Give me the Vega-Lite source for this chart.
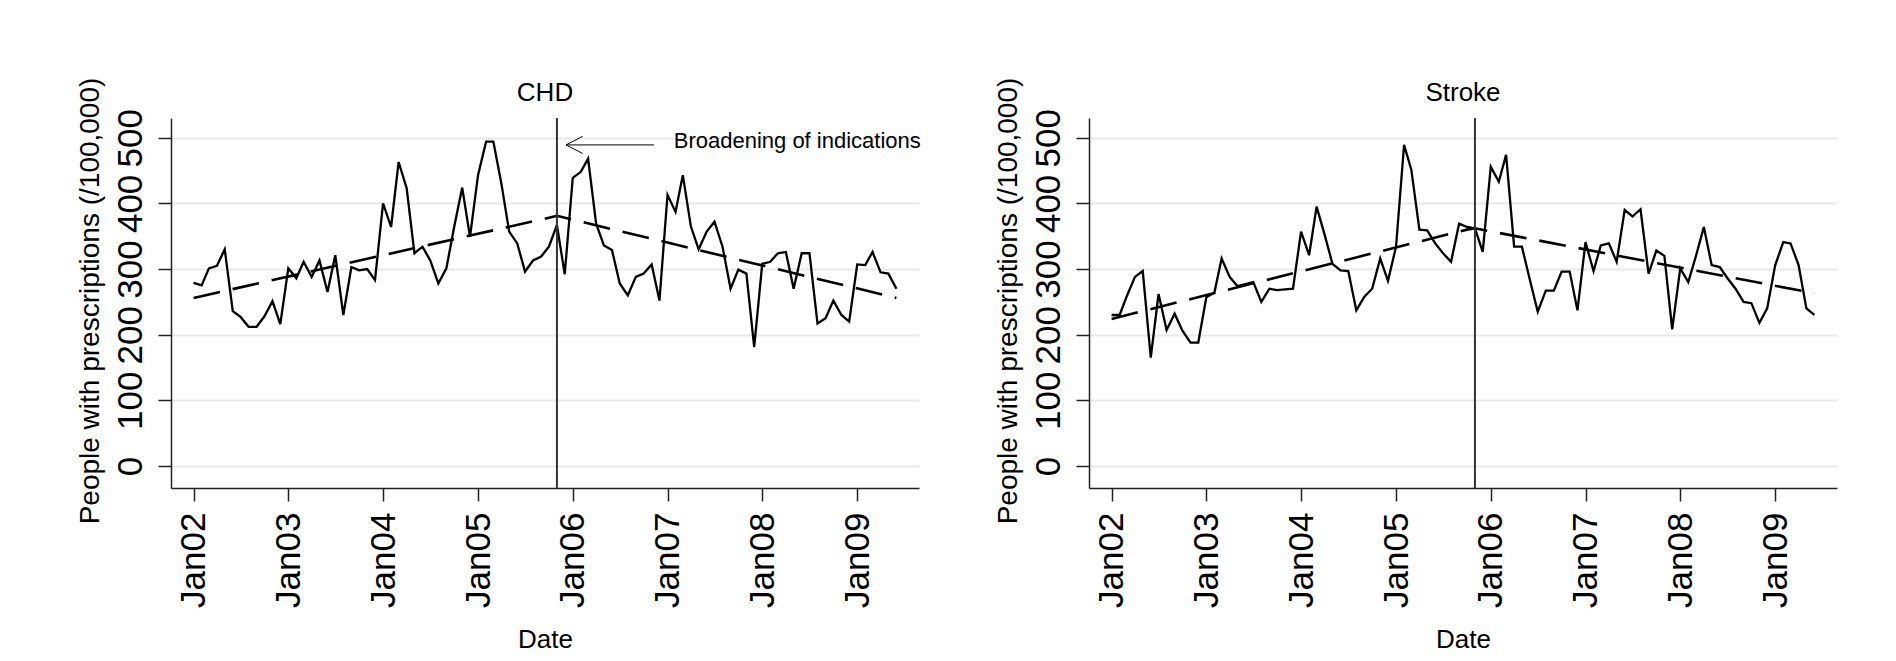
{
  "$schema": "https://vega.github.io/schema/vega-lite/v6.json",
  "background": "white",
  "padding": {"left": 75, "top": 77, "right": 10, "bottom": 5},
  "spacing": 170,
  "bounds": "flush",
  "datasets": {
    "monthly": [
      {"date": "2002-01-01", "chd": 279, "stroke": 230},
      {"date": "2002-02-01", "chd": 275, "stroke": 230},
      {"date": "2002-03-01", "chd": 301, "stroke": 259},
      {"date": "2002-04-01", "chd": 305, "stroke": 288},
      {"date": "2002-05-01", "chd": 330, "stroke": 297},
      {"date": "2002-06-01", "chd": 236, "stroke": 165},
      {"date": "2002-07-01", "chd": 227, "stroke": 262},
      {"date": "2002-08-01", "chd": 212, "stroke": 207},
      {"date": "2002-09-01", "chd": 212, "stroke": 232},
      {"date": "2002-10-01", "chd": 228, "stroke": 206},
      {"date": "2002-11-01", "chd": 251, "stroke": 188},
      {"date": "2002-12-01", "chd": 216, "stroke": 188},
      {"date": "2003-01-01", "chd": 301, "stroke": 257},
      {"date": "2003-02-01", "chd": 286, "stroke": 264},
      {"date": "2003-03-01", "chd": 311, "stroke": 316},
      {"date": "2003-04-01", "chd": 288, "stroke": 288},
      {"date": "2003-05-01", "chd": 313, "stroke": 274},
      {"date": "2003-06-01", "chd": 265, "stroke": 277},
      {"date": "2003-07-01", "chd": 321, "stroke": 280},
      {"date": "2003-08-01", "chd": 230, "stroke": 250},
      {"date": "2003-09-01", "chd": 303, "stroke": 270},
      {"date": "2003-10-01", "chd": 298, "stroke": 268},
      {"date": "2003-11-01", "chd": 300, "stroke": 269},
      {"date": "2003-12-01", "chd": 283, "stroke": 270},
      {"date": "2004-01-01", "chd": 400, "stroke": 357},
      {"date": "2004-02-01", "chd": 364, "stroke": 321},
      {"date": "2004-03-01", "chd": 463, "stroke": 395},
      {"date": "2004-04-01", "chd": 423, "stroke": 352},
      {"date": "2004-05-01", "chd": 324, "stroke": 308},
      {"date": "2004-06-01", "chd": 334, "stroke": 298},
      {"date": "2004-07-01", "chd": 313, "stroke": 297},
      {"date": "2004-08-01", "chd": 278, "stroke": 237},
      {"date": "2004-09-01", "chd": 301, "stroke": 258},
      {"date": "2004-10-01", "chd": 364, "stroke": 270},
      {"date": "2004-11-01", "chd": 424, "stroke": 316},
      {"date": "2004-12-01", "chd": 349, "stroke": 282},
      {"date": "2005-01-01", "chd": 443, "stroke": 334},
      {"date": "2005-02-01", "chd": 494, "stroke": 489},
      {"date": "2005-03-01", "chd": 494, "stroke": 451},
      {"date": "2005-04-01", "chd": 430, "stroke": 360},
      {"date": "2005-05-01", "chd": 357, "stroke": 359},
      {"date": "2005-06-01", "chd": 339, "stroke": 339},
      {"date": "2005-07-01", "chd": 296, "stroke": 324},
      {"date": "2005-08-01", "chd": 313, "stroke": 311},
      {"date": "2005-09-01", "chd": 319, "stroke": 369},
      {"date": "2005-10-01", "chd": 334, "stroke": 364},
      {"date": "2005-11-01", "chd": 367, "stroke": 362},
      {"date": "2005-12-01", "chd": 292, "stroke": 326},
      {"date": "2006-01-01", "chd": 439, "stroke": 456},
      {"date": "2006-02-01", "chd": 448, "stroke": 433},
      {"date": "2006-03-01", "chd": 468, "stroke": 474},
      {"date": "2006-04-01", "chd": 369, "stroke": 334},
      {"date": "2006-05-01", "chd": 336, "stroke": 334},
      {"date": "2006-06-01", "chd": 329, "stroke": 283},
      {"date": "2006-07-01", "chd": 278, "stroke": 235},
      {"date": "2006-08-01", "chd": 260, "stroke": 267},
      {"date": "2006-09-01", "chd": 288, "stroke": 267},
      {"date": "2006-10-01", "chd": 293, "stroke": 296},
      {"date": "2006-11-01", "chd": 307, "stroke": 296},
      {"date": "2006-12-01", "chd": 252, "stroke": 237},
      {"date": "2007-01-01", "chd": 413, "stroke": 341},
      {"date": "2007-02-01", "chd": 387, "stroke": 297},
      {"date": "2007-03-01", "chd": 443, "stroke": 336},
      {"date": "2007-04-01", "chd": 365, "stroke": 339},
      {"date": "2007-05-01", "chd": 330, "stroke": 311},
      {"date": "2007-06-01", "chd": 357, "stroke": 390},
      {"date": "2007-07-01", "chd": 372, "stroke": 380},
      {"date": "2007-08-01", "chd": 334, "stroke": 391},
      {"date": "2007-09-01", "chd": 270, "stroke": 293},
      {"date": "2007-10-01", "chd": 299, "stroke": 328},
      {"date": "2007-11-01", "chd": 293, "stroke": 320},
      {"date": "2007-12-01", "chd": 181, "stroke": 208},
      {"date": "2008-01-01", "chd": 308, "stroke": 301},
      {"date": "2008-02-01", "chd": 311, "stroke": 280},
      {"date": "2008-03-01", "chd": 324, "stroke": 319},
      {"date": "2008-04-01", "chd": 326, "stroke": 364},
      {"date": "2008-05-01", "chd": 270, "stroke": 306},
      {"date": "2008-06-01", "chd": 324, "stroke": 303},
      {"date": "2008-07-01", "chd": 324, "stroke": 286},
      {"date": "2008-08-01", "chd": 217, "stroke": 270},
      {"date": "2008-09-01", "chd": 225, "stroke": 250},
      {"date": "2008-10-01", "chd": 252, "stroke": 248},
      {"date": "2008-11-01", "chd": 230, "stroke": 218},
      {"date": "2008-12-01", "chd": 220, "stroke": 240},
      {"date": "2009-01-01", "chd": 307, "stroke": 306},
      {"date": "2009-02-01", "chd": 306, "stroke": 341},
      {"date": "2009-03-01", "chd": 326, "stroke": 339},
      {"date": "2009-04-01", "chd": 295, "stroke": 306},
      {"date": "2009-05-01", "chd": 293, "stroke": 240},
      {"date": "2009-06-01", "chd": 270, "stroke": 230}
    ],
    "trend": [
      {"date": "2002-01-01", "chd": 256, "stroke": 224},
      {"date": "2005-10-01", "chd": 378, "stroke": 360},
      {"date": "2005-11-01", "chd": 381, "stroke": 362},
      {"date": "2009-06-01", "chd": 256, "stroke": 263}
    ],
    "event": [{"date": "2005-11-01"}],
    "arrow": [
      {"x": "2005-12-06", "y": 489, "x2": "2006-11-10", "y2": 489},
      {"x": "2005-12-06", "y": 489, "x2": "2006-02-08", "y2": 502},
      {"x": "2005-12-06", "y": 489, "x2": "2006-02-08", "y2": 476}
    ],
    "notes": [{"date": "2007-01-25", "value": 484, "label": "Broadening of indications"}]
  },
  "hconcat": [
    {
      "width": 748,
      "height": 370,
      "title": {"text": "CHD"},
      "layer": [
        {
          "data": {"name": "monthly"},
          "mark": {"type": "line", "color": "#000", "strokeWidth": 2.3},
          "encoding": {
            "x": {
              "field": "date", "type": "temporal",
              "scale": {"type": "utc", "domain": [{"year": 2001, "month": 10, "date": 6, "utc": true}, {"year": 2009, "month": 8, "date": 27, "utc": true}]},
              "axis": {
                "title": "Date",
                "values": [
                  {"year": 2002, "month": 1, "date": 1, "utc": true},
                  {"year": 2003, "month": 1, "date": 1, "utc": true},
                  {"year": 2004, "month": 1, "date": 1, "utc": true},
                  {"year": 2005, "month": 1, "date": 1, "utc": true},
                  {"year": 2006, "month": 1, "date": 1, "utc": true},
                  {"year": 2007, "month": 1, "date": 1, "utc": true},
                  {"year": 2008, "month": 1, "date": 1, "utc": true},
                  {"year": 2009, "month": 1, "date": 1, "utc": true}
                ],
                "labelExpr": "utcFormat(datum.value, '%b%y')",
                "labelAngle": -90, "labelAlign": "right", "labelBaseline": "middle", "labelPadding": 11,
                "labelFlush": false, "labelOverlap": false, "grid": false,
                "titleX": 374, "titleY": 159, "titleAlign": "center", "titleBaseline": "alphabetic", "titleFontSize": 26
              }
            },
            "y": {
              "field": "chd", "type": "quantitative",
              "scale": {"domain": [-33.5, 530], "nice": false, "zero": false},
              "axis": {
                "title": "People with prescriptions (/100,000)",
                "values": [0, 100, 200, 300, 400, 500],
                "labelAngle": -90, "labelAlign": "center", "labelBaseline": "alphabetic", "labelPadding": 17,
                "labelFlush": false, "labelOverlap": false, "grid": true,
                "titleAngle": -90, "titleX": -73, "titleY": 182.5, "titleAlign": "center", "titleBaseline": "alphabetic", "titleFontSize": 28
              }
            }
          }
        },
        {
          "data": {"name": "trend"},
          "mark": {"type": "line", "color": "#000", "strokeWidth": 2.6, "strokeDash": [27, 13]},
          "encoding": {
            "x": {"field": "date", "type": "temporal"},
            "y": {"field": "chd", "type": "quantitative"}
          }
        },
        {
          "data": {"name": "event"},
          "mark": {"type": "rule", "color": "#333", "strokeWidth": 2},
          "encoding": {"x": {"field": "date", "type": "temporal"}}
        },
        {
          "data": {"name": "arrow"},
          "mark": {"type": "rule", "color": "#000", "strokeWidth": 1},
          "encoding": {
            "x": {"field": "x", "type": "temporal"},
            "x2": {"field": "x2"},
            "y": {"field": "y", "type": "quantitative"},
            "y2": {"field": "y2"}
          }
        },
        {
          "data": {"name": "notes"},
          "mark": {"type": "text", "align": "left", "baseline": "alphabetic", "fontSize": 22, "color": "#000"},
          "encoding": {
            "x": {"field": "date", "type": "temporal"},
            "y": {"field": "value", "type": "quantitative"},
            "text": {"field": "label"}
          }
        }
      ]
    },
    {
      "width": 748,
      "height": 370,
      "title": {"text": "Stroke"},
      "layer": [
        {
          "data": {"name": "monthly"},
          "mark": {"type": "line", "color": "#000", "strokeWidth": 2.3},
          "encoding": {
            "x": {
              "field": "date", "type": "temporal",
              "scale": {"type": "utc", "domain": [{"year": 2001, "month": 10, "date": 6, "utc": true}, {"year": 2009, "month": 8, "date": 27, "utc": true}]},
              "axis": {
                "title": "Date",
                "values": [
                  {"year": 2002, "month": 1, "date": 1, "utc": true},
                  {"year": 2003, "month": 1, "date": 1, "utc": true},
                  {"year": 2004, "month": 1, "date": 1, "utc": true},
                  {"year": 2005, "month": 1, "date": 1, "utc": true},
                  {"year": 2006, "month": 1, "date": 1, "utc": true},
                  {"year": 2007, "month": 1, "date": 1, "utc": true},
                  {"year": 2008, "month": 1, "date": 1, "utc": true},
                  {"year": 2009, "month": 1, "date": 1, "utc": true}
                ],
                "labelExpr": "utcFormat(datum.value, '%b%y')",
                "labelAngle": -90, "labelAlign": "right", "labelBaseline": "middle", "labelPadding": 11,
                "labelFlush": false, "labelOverlap": false, "grid": false,
                "titleX": 374, "titleY": 159, "titleAlign": "center", "titleBaseline": "alphabetic", "titleFontSize": 26
              }
            },
            "y": {
              "field": "stroke", "type": "quantitative",
              "scale": {"domain": [-33.5, 530], "nice": false, "zero": false},
              "axis": {
                "title": "People with prescriptions (/100,000)",
                "values": [0, 100, 200, 300, 400, 500],
                "labelAngle": -90, "labelAlign": "center", "labelBaseline": "alphabetic", "labelPadding": 17,
                "labelFlush": false, "labelOverlap": false, "grid": true,
                "titleAngle": -90, "titleX": -73, "titleY": 182.5, "titleAlign": "center", "titleBaseline": "alphabetic", "titleFontSize": 28
              }
            }
          }
        },
        {
          "data": {"name": "trend"},
          "mark": {"type": "line", "color": "#000", "strokeWidth": 2.6, "strokeDash": [27, 13]},
          "encoding": {
            "x": {"field": "date", "type": "temporal"},
            "y": {"field": "stroke", "type": "quantitative"}
          }
        },
        {
          "data": {"name": "event"},
          "mark": {"type": "rule", "color": "#333", "strokeWidth": 2},
          "encoding": {"x": {"field": "date", "type": "temporal"}}
        }
      ]
    }
  ],
  "config": {
    "font": "Liberation Sans",
    "view": {"stroke": null},
    "axis": {
      "domainColor": "#222", "domainWidth": 1.5,
      "tickColor": "#222", "tickWidth": 1.5, "tickSize": 13,
      "labelColor": "#000", "titleColor": "#000",
      "labelFont": "Liberation Sans", "titleFont": "Liberation Sans",
      "labelFontSize": 35, "titleFontWeight": "normal",
      "gridColor": "#e8e8e8", "gridWidth": 2
    },
    "title": {
      "font": "Liberation Sans", "fontSize": 26, "fontWeight": "normal", "color": "#000",
      "baseline": "alphabetic", "offset": -29, "anchor": "middle", "frame": "group"
    }
  }
}
